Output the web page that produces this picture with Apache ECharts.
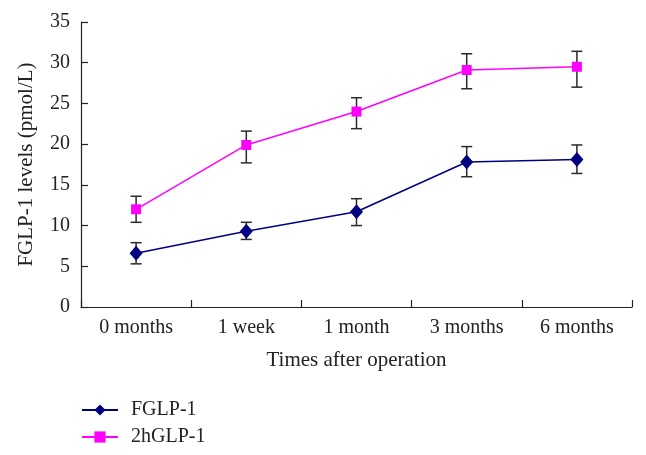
<!DOCTYPE html>
<html><head><meta charset="utf-8">
<script src="https://cdn.jsdelivr.net/npm/echarts@6/dist/echarts.min.js"></script>
<style>html,body{margin:0;padding:0;background:#fff}#c{width:646px;height:455px}</style>
</head><body><div id="c"></div>
<script>
var categories = ['0 months', '1 week', '1 month', '3 months', '6 months'];
var fglp = [6.6, 9.3, 11.7, 17.8, 18.1];
var fglpLow = [5.3, 8.3, 10.0, 16.0, 16.4];
var fglpHigh = [7.9, 10.4, 13.3, 19.7, 19.9];
var hglp = [12.0, 19.9, 24.0, 29.1, 29.5];
var hglpLow = [10.4, 17.7, 21.9, 26.8, 27.0];
var hglpHigh = [13.6, 21.6, 25.7, 31.1, 31.4];
var yTicks = [0, 5, 10, 15, 20, 25, 30, 35];

var font = '"Liberation Serif", "DejaVu Serif", serif';
function errData(lo, hi) { return categories.map(function (c, i) { return [i, lo[i], hi[i]]; }); }
function errRender(params, api) {
  var x = api.value(0);
  var lo = api.coord([x, api.value(1)]);
  var hi = api.coord([x, api.value(2)]);
  var w = 5.5;
  var st = { stroke: '#2a2a2a', lineWidth: 1.5 };
  return { type: 'group', children: [
    { type: 'line', shape: { x1: lo[0], y1: lo[1], x2: hi[0], y2: hi[1] }, style: st },
    { type: 'line', shape: { x1: lo[0] - w, y1: lo[1], x2: lo[0] + w, y2: lo[1] }, style: st },
    { type: 'line', shape: { x1: hi[0] - w, y1: hi[1], x2: hi[0] + w, y2: hi[1] }, style: st }
  ]};
}
var legendText = { fontFamily: font, fontSize: 20, color: '#222', padding: [0, 0, 0, 8] };
var chart = echarts.init(document.getElementById('c'));
chart.setOption({
  animation: false,
  backgroundColor: '#fff',
  grid: { left: 81, right: 14, top: 22, bottom: 148, containLabel: false },
  legend: [
    { left: 76, top: 395, itemWidth: 36, itemHeight: 14, textStyle: legendText, data: ['FGLP-1'] },
    { left: 76, top: 422, itemWidth: 36, itemHeight: 14, textStyle: legendText, data: ['2hGLP-1'] }
  ],
  xAxis: {
    type: 'category', data: categories, boundaryGap: true,
    name: 'Times after operation', nameLocation: 'middle', nameGap: 43,
    nameTextStyle: { fontFamily: font, fontSize: 21, color: '#222' },
    axisLine: { show: true, lineStyle: { color: '#222', width: 1.2 } },
    axisTick: { show: true, inside: true, length: 7, alignWithLabel: false, lineStyle: { color: '#222', width: 1.2 } },
    axisLabel: { fontFamily: font, fontSize: 20, color: '#222', margin: 11 },
    splitLine: { show: false }
  },
  yAxis: {
    type: 'value', min: 0, max: 35, interval: 5,
    name: 'FGLP-1 levels (pmol/L)', nameLocation: 'middle', nameGap: 44, nameRotate: 90,
    nameTextStyle: { fontFamily: font, fontSize: 21, color: '#222' },
    axisLine: { show: true, lineStyle: { color: '#222', width: 1.2 } },
    axisTick: { show: true, inside: true, length: 7, lineStyle: { color: '#222', width: 1.2 } },
    axisLabel: { fontFamily: font, fontSize: 20, color: '#222', margin: 11,
      formatter: function (v) { return yTicks.indexOf(v) >= 0 ? String(v) : ''; } },
    splitLine: { show: false }
  },
  series: [
    { name: 'FGLP-1 err', type: 'custom', renderItem: errRender, data: errData(fglpLow, fglpHigh), z: 1, silent: true },
    { name: '2hGLP-1 err', type: 'custom', renderItem: errRender, data: errData(hglpLow, hglpHigh), z: 1, silent: true },
    { name: 'FGLP-1', type: 'line', data: fglp, symbol: 'diamond', symbolSize: [13, 15],
      color: '#000080', lineStyle: { color: '#000080', width: 1.5 }, itemStyle: { color: '#000080' }, z: 3 },
    { name: '2hGLP-1', type: 'line', data: hglp, symbol: 'rect', symbolSize: 10,
      color: '#FF00FF', lineStyle: { color: '#FF00FF', width: 1.5 }, itemStyle: { color: '#FF00FF' }, z: 3 }
  ]
});
</script></body></html>
